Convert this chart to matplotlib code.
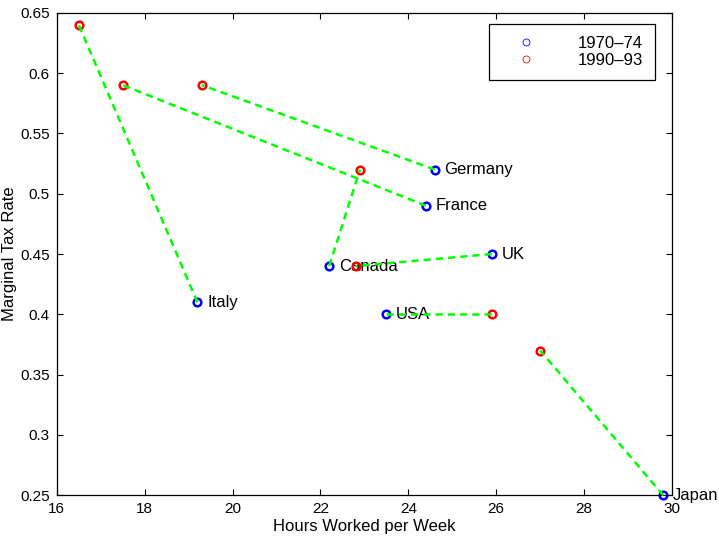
import matplotlib
matplotlib.use("Agg")
import matplotlib.pyplot as plt
from matplotlib.lines import Line2D

plt.rcParams['font.family'] = ['Liberation Sans', 'DejaVu Sans']
plt.rcParams['font.size'] = 12

# countries and the two periods (hours worked per week, marginal tax rate)
countries = ["Germany", "France", "Italy", "Canada", "UK", "USA", "Japan"]
hours_7074 = [24.6, 24.4, 19.2, 22.2, 25.9, 23.5, 29.8]
tax_7074 = [0.52, 0.49, 0.41, 0.44, 0.45, 0.40, 0.25]
hours_9093 = [19.3, 17.5, 16.5, 22.9, 22.8, 25.9, 27.0]
tax_9093 = [0.59, 0.59, 0.64, 0.52, 0.44, 0.40, 0.37]

xticks = [16, 18, 20, 22, 24, 26, 28, 30]
yticks = [0.25, 0.3, 0.35, 0.4, 0.45, 0.5, 0.55, 0.6, 0.65]

fig = plt.figure(figsize=(7.19, 5.36), dpi=100)
ax = fig.add_axes([0.0789, 0.0759, 0.8557, 0.9004])

# labels first, then markers, green lines on top
for name, x, y in zip(countries, hours_7074, tax_7074):
    ax.annotate(name, (x, y), xytext=(7, 0), textcoords="offset points",
                va="center", ha="left", fontsize=12, zorder=1,
                annotation_clip=False)

ax.plot(hours_7074, tax_7074, "o", mfc="none", mec="b", ms=5.5, mew=1.8,
        zorder=2, clip_on=False)
ax.plot(hours_9093, tax_9093, "o", mfc="none", mec="r", ms=5.5, mew=1.8,
        zorder=2, clip_on=False)

for x0, y0, x1, y1 in zip(hours_7074, tax_7074, hours_9093, tax_9093):
    ax.plot([x0, x1], [y0, y1], color=(0, 1, 0), lw=1.8,
            dashes=(2.9, 2.0), zorder=3, clip_on=False)

ax.set_xlim(16, 30)
ax.set_ylim(0.25, 0.65)
ax.set_xticks(xticks)
ax.set_yticks(yticks)
ax.set_xticklabels([str(t) for t in xticks])
ax.set_yticklabels(["%g" % t for t in yticks])
ax.tick_params(direction="in", length=4, width=0.8, top=True, right=True,
               labelsize=11, pad=5)
for s in ax.spines.values():
    s.set_linewidth(0.9)

ax.set_xlabel("Hours Worked per Week", fontsize=12, labelpad=2)
ax.set_ylabel("Marginal Tax Rate", fontsize=12)
ax.yaxis.set_label_coords(-0.064, 0.5)

handles = [
    Line2D([], [], ls="none", marker="o", mfc="none", mec="b", ms=5, mew=0.6),
    Line2D([], [], ls="none", marker="o", mfc="none", mec="r", ms=5, mew=0.6),
]
leg = ax.legend(handles, ["1970\u201374", "1990\u201393"], loc="upper right",
                bbox_to_anchor=(0.9724, 0.9766), borderaxespad=0,
                fancybox=False, frameon=True, framealpha=1, edgecolor="k",
                borderpad=0.7, handlelength=3.1, handletextpad=1.55,
                labelspacing=0.15, fontsize=12)
leg.get_frame().set_linewidth(0.9)

fig.savefig("out.png", dpi=100, facecolor="white")
